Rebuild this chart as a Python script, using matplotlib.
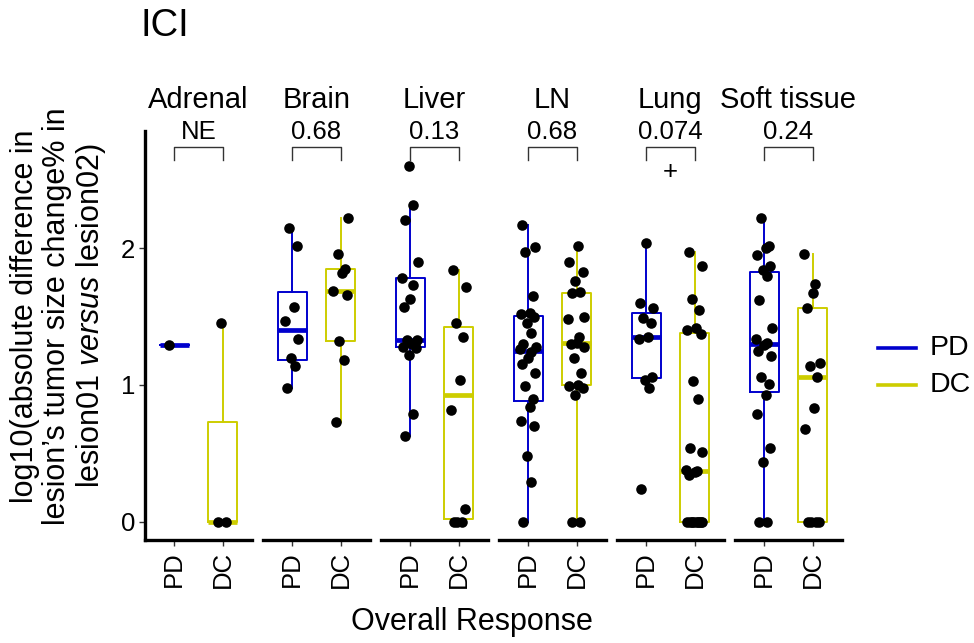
import numpy as np
import matplotlib
matplotlib.use("Agg")
from matplotlib import pyplot as plt
from matplotlib.lines import Line2D

plt.rcParams['font.family'] = ['Liberation Sans', 'DejaVu Sans']
plt.rcParams['mathtext.fontset'] = 'custom'
plt.rcParams['mathtext.it'] = 'Liberation Sans:italic'
plt.rcParams['mathtext.rm'] = 'Liberation Sans'

# sites (facets) and the p-values shown above each
sites = ['Adrenal', 'Brain', 'Liver', 'LN', 'Lung', 'Soft tissue']
pvals = ['NE', '0.68', '0.13', '0.68', '0.074', '0.24']
signif = ['', '', '', '', '+', '']
groups = ['PD', 'DC']

# log10 values, PD and DC per site
adrenal_pd = [1.29]
adrenal_dc = [0.0, 0.0, 1.456]
brain_pd = [0.98, 1.14, 1.20, 1.34, 1.47, 1.57, 2.02, 2.15]
brain_dc = [0.73, 1.18, 1.32, 1.66, 1.69, 1.82, 1.85, 1.96, 2.22]
liver_pd = [0.63, 0.79, 1.22, 1.27, 1.28, 1.30, 1.31, 1.33, 1.33, 1.57, 1.63,
            1.73, 1.78, 1.90, 2.21, 2.32, 2.60]
liver_dc = [0.0, 0.0, 0.0, 0.09, 0.82, 1.04, 1.35, 1.45, 1.72, 1.84]
ln_pd = [0.0, 0.29, 0.48, 0.70, 0.74, 0.84, 0.90, 0.99, 1.09, 1.15, 1.20, 1.24,
         1.26, 1.28, 1.30, 1.38, 1.45, 1.50, 1.52, 1.53, 1.65, 1.97, 2.01, 2.17]
ln_dc = [0.0, 0.0, 0.93, 0.98, 0.99, 1.00, 1.09, 1.20, 1.28, 1.30, 1.31, 1.35,
         1.48, 1.50, 1.67, 1.68, 1.76, 1.83, 1.90, 2.02]
lung_pd = [0.24, 0.98, 1.04, 1.06, 1.34, 1.35, 1.45, 1.49, 1.56, 1.60, 2.04]
lung_dc = [0.0, 0.0, 0.0, 0.0, 0.0, 0.0, 0.0, 0.0, 0.0, 0.34, 0.36, 0.37, 0.375,
           0.51, 0.54, 0.90, 1.03, 1.37, 1.40, 1.42, 1.55, 1.63, 1.87, 1.97]
soft_pd = [0.0, 0.0, 0.44, 0.54, 0.79, 0.93, 1.01, 1.06, 1.21, 1.25, 1.29, 1.31,
           1.34, 1.42, 1.62, 1.80, 1.84, 1.87, 1.95, 2.00, 2.02, 2.22]
soft_dc = [0.0, 0.0, 0.0, 0.0, 0.68, 0.83, 1.06, 1.14, 1.16, 1.56, 1.67, 1.74, 1.96]

pd_vals = [adrenal_pd, brain_pd, liver_pd, ln_pd, lung_pd, soft_pd]
dc_vals = [adrenal_dc, brain_dc, liver_dc, ln_dc, lung_dc, soft_dc]

colors = {'PD': '#0000CD', 'DC': '#CDCD00'}
# fixed jitter pattern (no randomness)
jit = [-0.10, 0.07, -0.03, 0.13, -0.15, 0.03, 0.10, -0.06, 0.15, -0.12, 0.0, 0.05, -0.17, 0.16]

fig = plt.figure(figsize=(9.74, 6.43), dpi=100)
W, H = 974.0, 643.0
left0, step, pw = 145, 118, 106.7
top, bot = 131, 540
ylo, yhi = -0.134, 2.858

for i, site in enumerate(sites):
    ax = fig.add_axes([(left0 + i * step) / W, 1 - bot / H, pw / W, (bot - top) / H])
    for j, (g, vals) in enumerate(zip(groups, [pd_vals[i], dc_vals[i]])):
        c = colors[g]
        ax.boxplot([vals], positions=[j + 1], widths=0.6, showfliers=False,
                   showcaps=False, whis=1.5,
                   boxprops=dict(color=c, linewidth=1.4),
                   whiskerprops=dict(color=c, linewidth=1.4),
                   medianprops=dict(color=c, linewidth=3.4, solid_capstyle='butt'))
        xs = [j + 1 + jit[k % len(jit)] for k in range(len(vals))]
        ax.scatter(xs, vals, s=58, color='black', zorder=5, linewidths=0)
    # bracket and p-value
    ax.plot([1, 1, 2, 2], [2.646, 2.743, 2.743, 2.646], color='#333333', lw=1.0, clip_on=False)
    ax.text(1.5, 2.85, pvals[i], ha='center', va='center', fontsize=18.5)
    if signif[i]:
        ax.text(1.5, 2.555, signif[i], ha='center', va='center', fontsize=18.5)
    ax.text(0.5, 1.076, site, transform=ax.transAxes, ha='center', va='center', fontsize=21)
    ax.set_xlim(0.4, 2.6)
    ax.set_ylim(ylo, yhi)
    ax.set_xticks([1, 2])
    ax.set_xticklabels(groups, rotation=90, fontsize=18.5)
    ax.tick_params(axis='x', length=4, width=1, color='#333333', pad=4)
    for s in ['top', 'right']:
        ax.spines[s].set_visible(False)
    ax.spines['bottom'].set_linewidth(2.4)
    if i == 0:
        ax.spines['left'].set_linewidth(2.4)
        ax.set_yticks([0, 1, 2])
        ax.set_yticklabels(['0', '1', '2'], fontsize=18.5)
        ax.tick_params(axis='y', length=4, width=1, color='#333333', pad=3)
    else:
        ax.spines['left'].set_visible(False)
        ax.set_yticks([])

fig.text(140 / W, 1 - 26 / H, 'ICI', fontsize=27.5, ha='left', va='center')
fig.text(472 / W, 1 - 622 / H, 'Overall Response', fontsize=22, ha='center', va='center')
fig.text(59 / W, 1 - 316 / H,
         'log10(absolute difference in\nlesion\u2019s tumor size change% in\nlesion01 $\\mathit{versus}$ lesion02)',
         fontsize=22, rotation=90, ha='center', va='center', linespacing=1.1)

# legend drawn by hand
for g, yy in zip(groups, [348, 385]):
    fig.add_artist(Line2D([878 / W, 916 / W], [1 - yy / H, 1 - yy / H], color=colors[g], lw=2.6))
    fig.text(930 / W, 1 - yy / H, g, fontsize=20.5, ha='left', va='center')

fig.savefig('out.png', dpi=100)
